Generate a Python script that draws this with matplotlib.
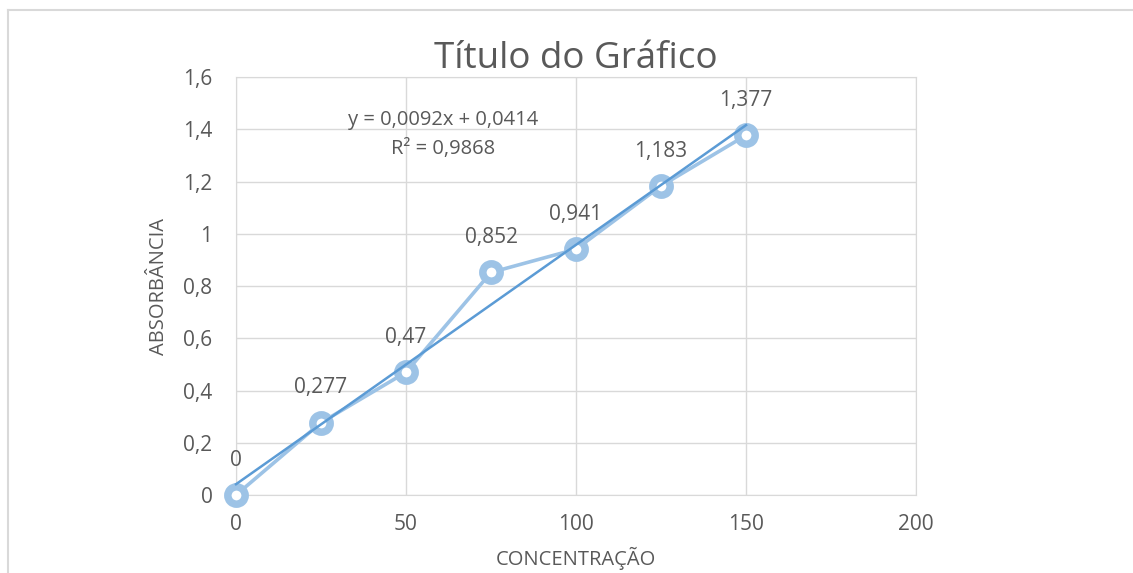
import numpy as np
import matplotlib.pyplot as plt

concentracao = [0, 25, 50, 75, 100, 125, 150]
absorbancia = [0, 0.277, 0.47, 0.852, 0.941, 1.183, 1.377]
rotulos = ['0', '0,277', '0,47', '0,852', '0,941', '1,183', '1,377']
x_ticks = [0, 50, 100, 150, 200]
y_ticks = [0, 0.2, 0.4, 0.6, 0.8, 1.0, 1.2, 1.4, 1.6]
y_tick_labels = ['0', '0,2', '0,4', '0,6', '0,8', '1', '1,2', '1,4', '1,6']

CINZA = '#595959'
GRADE = '#D9D9D9'
plt.rcParams['font.family'] = ['Open Sans', 'DejaVu Sans']

fig = plt.figure(figsize=(11.33, 5.73), dpi=100)
ax = fig.add_axes([0.2083, 0.1361, 0.6002, 0.7295])

# moldura externa (só topo e esquerda aparecem no recorte)
fig.add_artist(plt.Line2D([0.007, 0.007], [0, 0.983], color=GRADE, lw=1.5))
fig.add_artist(plt.Line2D([0.007, 1.0], [0.983, 0.983], color=GRADE, lw=1.5))

# linha de tendência
coef = np.polyfit(concentracao, absorbancia, 1)
xt = np.array([concentracao[0], concentracao[-1]])
ax.plot(xt, np.polyval(coef, xt), color='#5B9BD5', lw=1.8, zorder=5,
        clip_on=False)

ax.plot(concentracao, absorbancia, color='#9DC3E6', lw=2.6, marker='o',
        markersize=12.5, markeredgewidth=5.4, markerfacecolor='white',
        markeredgecolor='#9DC3E6', zorder=4, clip_on=False)

for x, y, txt in zip(concentracao, absorbancia, rotulos):
    ax.annotate(txt, (x, y), xytext=(0, 25), textcoords='offset points',
                ha='center', va='center', fontsize=15, color=CINZA)

ax.text(0.305, 0.898, 'y = 0,0092x + 0,0414', transform=ax.transAxes,
        ha='center', va='center', fontsize=14.5, color=CINZA)
ax.text(0.305, 0.828, 'R² = 0,9868', transform=ax.transAxes,
        ha='center', va='center', fontsize=14.5, color=CINZA)

ax.set_xlim(0, 200)
ax.set_ylim(0, 1.6)
ax.set_xticks(x_ticks)
ax.set_xticklabels([str(t) for t in x_ticks])
ax.set_yticks(y_ticks)
ax.set_yticklabels(y_tick_labels)
ax.tick_params(length=0, labelsize=15, labelcolor=CINZA)
ax.tick_params(axis='x', pad=14)
ax.tick_params(axis='y', pad=17)
ax.grid(True, color=GRADE, lw=1)
ax.set_axisbelow(True)
for s in ax.spines.values():
    s.set_color(GRADE)

ax.text(0.5, 1.042, 'Título do Gráfico', transform=ax.transAxes,
        ha='center', va='center', fontsize=26.5, color=CINZA)
ax.set_xlabel('CONCENTRAÇÃO', fontsize=14.5, color=CINZA, labelpad=8)
ax.set_ylabel('ABSORBÂNCIA', fontsize=14.5, color=CINZA, labelpad=10)

fig.savefig('out.png', dpi=100, facecolor='white')
